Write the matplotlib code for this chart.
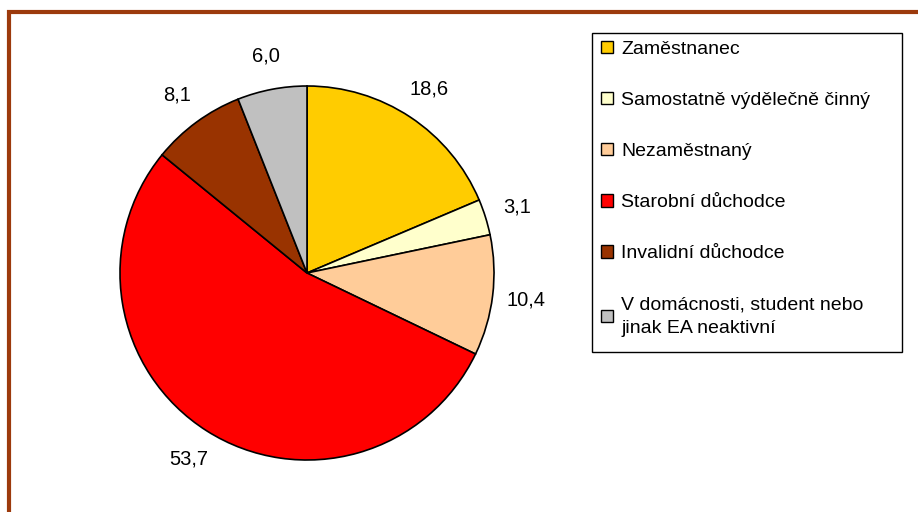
import matplotlib
matplotlib.use("Agg")
import matplotlib.pyplot as plt
from matplotlib.patches import Rectangle

plt.rcParams['font.family'] = ['Liberation Sans', 'DejaVu Sans']

categories = ["Zaměstnanec", "Samostatně výdělečně činný", "Nezaměstnaný",
              "Starobní důchodce", "Invalidní důchodce",
              "V domácnosti, student nebo\njinak EA neaktivní"]
values = [18.6, 3.1, 10.4, 53.7, 8.1, 6.0]
colors = ["#FFCC00", "#FFFFCC", "#FFCC99", "#FF0000", "#993300", "#C0C0C0"]

W, H = 918, 512
fig = plt.figure(figsize=(W / 100, H / 100), dpi=100)

# brown frame, only left/top edges visible in the reference
fig.patches.append(Rectangle((8.5 / W, -0.2), 1.2, 1 - 11.5 / H + 0.2,
                             transform=fig.transFigure, fill=False,
                             edgecolor="#9C3A0C", linewidth=3.0))

cx, cy, r = 307, 273, 187
ax = fig.add_axes([(cx - r) / W, 1 - (cy + r) / H, 2 * r / W, 2 * r / H])
wedges, texts = ax.pie(values, colors=colors, startangle=90, counterclock=False,
                       labels=[f"{v:.1f}".replace(".", ",") for v in values],
                       labeldistance=1.18,
                       wedgeprops=dict(edgecolor="black", linewidth=1.2),
                       textprops=dict(fontsize=14.5))
for t in texts:
    t.set_ha("center")
    t.set_va("center")
ax.set_xlim(-1, 1)
ax.set_ylim(-1, 1)
ax.set_aspect("auto")

# legend box drawn separately so its size matches the reference
fig.patches.append(Rectangle((592 / W, 1 - 352 / H), 310 / W, 319 / H,
                             transform=fig.transFigure, fill=False,
                             edgecolor="black", linewidth=1.0))
leg = fig.legend(wedges, categories, loc="upper left",
                 bbox_to_anchor=(601 / W, 1 - 41 / H),
                 frameon=False, fontsize=14,
                 handlelength=0.6, handleheight=0.6, handletextpad=0.45,
                 labelspacing=1.75, borderpad=0.0, borderaxespad=0)
for h in leg.legend_handles:
    h.set_linewidth(1.0)
leg.get_texts()[-1].set_linespacing(1.5)

fig.savefig("out.png", dpi=100)
